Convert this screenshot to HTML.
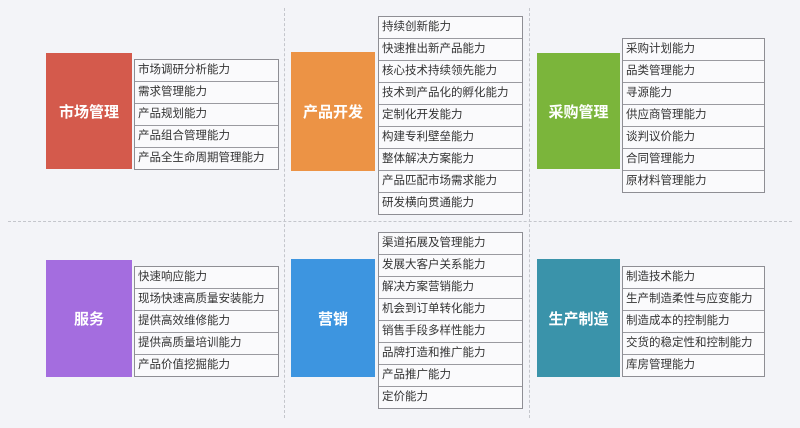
<!DOCTYPE html>
<html><head><meta charset="utf-8"><style>
body{margin:0;width:800px;height:428px;background:#f3f4f8;position:relative;overflow:hidden;font-family:"Liberation Sans","Noto Sans CJK SC",sans-serif}
.b{position:absolute;color:#fff;font-weight:bold;font-size:15px;display:flex;align-items:center;justify-content:center}
.l{position:absolute;border:1px solid #8e8e94;background:#fafafc}
.l div{height:21px;line-height:21px;border-top:1px solid #9a9aa0;font-size:11.5px;color:#333;padding-left:3px;white-space:nowrap}
.l div:first-child{border-top:none}
.v{position:absolute;width:0;border-left:1.5px dashed #c4c6cc}
.h{position:absolute;height:0;border-top:1.5px dashed #c4c6cc}
</style></head><body>
<div class="v" style="left:284px;top:8px;height:410px"></div>
<div class="v" style="left:529px;top:8px;height:410px"></div>
<div class="h" style="left:8px;top:221px;width:784px"></div>

<div class="b" style="left:46px;top:53px;width:86px;height:116px;background:#d45a4c">市场管理</div>
<div class="l" style="left:134px;top:59px;width:143px"><div>市场调研分析能力</div><div>需求管理能力</div><div>产品规划能力</div><div>产品组合管理能力</div><div>产品全生命周期管理能力</div></div>

<div class="b" style="left:291px;top:52px;width:84px;height:119px;background:#ec9345">产品开发</div>
<div class="l" style="left:378px;top:16px;width:143px"><div>持续创新能力</div><div>快速推出新产品能力</div><div>核心技术持续领先能力</div><div>技术到产品化的孵化能力</div><div>定制化开发能力</div><div>构建专利壁垒能力</div><div>整体解决方案能力</div><div>产品匹配市场需求能力</div><div>研发横向贯通能力</div></div>

<div class="b" style="left:537px;top:53px;width:83px;height:116px;background:#7bb53b">采购管理</div>
<div class="l" style="left:622px;top:38px;width:141px"><div>采购计划能力</div><div>品类管理能力</div><div>寻源能力</div><div>供应商管理能力</div><div>谈判议价能力</div><div>合同管理能力</div><div>原材料管理能力</div></div>

<div class="b" style="left:46px;top:260px;width:86px;height:117px;background:#a46ddf">服务</div>
<div class="l" style="left:134px;top:266px;width:143px"><div>快速响应能力</div><div>现场快速高质量安装能力</div><div>提供高效维修能力</div><div>提供高质量培训能力</div><div>产品价值挖掘能力</div></div>

<div class="b" style="left:291px;top:259px;width:84px;height:118px;background:#3d95e0">营销</div>
<div class="l" style="left:378px;top:232px;width:143px"><div>渠道拓展及管理能力</div><div>发展大客户关系能力</div><div>解决方案营销能力</div><div>机会到订单转化能力</div><div>销售手段多样性能力</div><div>品牌打造和推广能力</div><div>产品推广能力</div><div>定价能力</div></div>

<div class="b" style="left:537px;top:259px;width:83px;height:118px;background:#3a93aa">生产制造</div>
<div class="l" style="left:622px;top:266px;width:141px"><div>制造技术能力</div><div>生产制造柔性与应变能力</div><div>制造成本的控制能力</div><div>交货的稳定性和控制能力</div><div>库房管理能力</div></div>
</body></html>
